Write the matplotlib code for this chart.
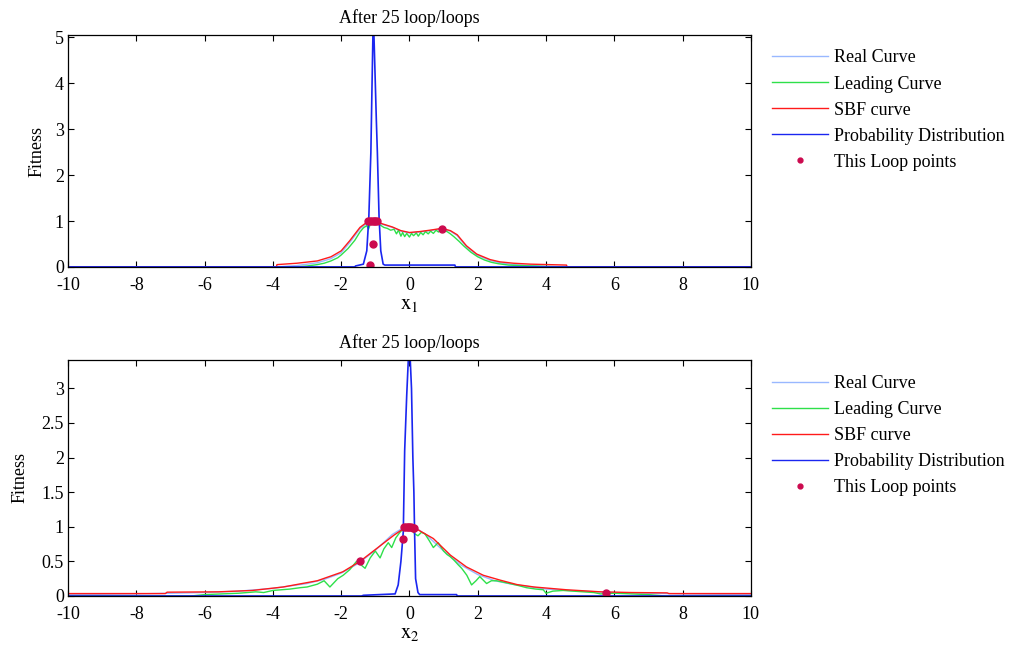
import matplotlib
matplotlib.use("Agg")
import matplotlib.pyplot as plt
from matplotlib.lines import Line2D

plt.rcParams['font.family'] = ['Liberation Serif', 'DejaVu Serif']
plt.rcParams['mathtext.fontset'] = 'stix'

# ---------------- data: panel 1 (x1) ----------------
real1_x = [-10, -3.9, -3.3, -2.7, -2.3, -2.0, -1.75, -1.45, -1.2, -1.05, -0.8, -0.5, -0.25, 0.0, 0.3, 0.6,
           0.95, 1.2, 1.4, 1.67, 1.97, 2.36, 2.65, 3.05, 3.55, 4.0, 4.6, 10]
real1_y = [0, 0.0, 0.03, 0.09, 0.18, 0.31, 0.53, 0.83, 0.98, 1.0, 0.93, 0.86, 0.78, 0.74, 0.76, 0.79,
           0.83, 0.78, 0.68, 0.44, 0.26, 0.14, 0.09, 0.05, 0.03, 0.01, 0.0, 0]

lead1_x = [-10, -3.3, -3.0, -2.7, -2.5, -2.3, -2.1, -2.0, -1.8, -1.6, -1.45, -1.35, -1.25, -1.2, -1.15, -1.05,
           -0.95, -0.85, -0.75, -0.65, -0.55, -0.45, -0.38, -0.32, -0.25, -0.2, -0.14, -0.08, 0.0, 0.06,
           0.12, 0.2, 0.26, 0.33, 0.4, 0.47, 0.55, 0.62, 0.7, 0.78, 0.85, 0.92, 1.0, 1.1, 1.2, 1.3, 1.45,
           1.6, 1.8, 2.0, 2.2, 2.4, 2.6, 2.9, 3.2, 3.6, 4.0, 4.6, 10]
lead1_y = [0, 0.0, 0.02, 0.05, 0.08, 0.13, 0.2, 0.26, 0.4, 0.58, 0.76, 0.85, 0.9, 0.82, 0.93, 0.97,
           0.95, 0.91, 0.86, 0.84, 0.8, 0.82, 0.72, 0.8, 0.67, 0.75, 0.66, 0.73, 0.65, 0.73,
           0.68, 0.74, 0.67, 0.75, 0.7, 0.77, 0.72, 0.78, 0.73, 0.8, 0.76, 0.8, 0.79, 0.77, 0.72, 0.66, 0.56,
           0.45, 0.32, 0.22, 0.15, 0.1, 0.07, 0.04, 0.03, 0.02, 0.01, 0.0, 0]

sbf1_x = [-10, -3.9, -3.88, -3.3, -2.7, -2.3, -2.0, -1.75, -1.45, -1.2, -1.05, -0.8, -0.5, -0.25, 0.0, 0.3,
          0.6, 0.95, 1.2, 1.4, 1.67, 1.97, 2.36, 2.65, 3.05, 3.55, 4.6, 4.62, 10]
sbf1_y = [0, 0, 0.05, 0.08, 0.13, 0.22, 0.35, 0.57, 0.86, 1.0, 1.01, 0.94, 0.87, 0.79, 0.75, 0.77,
          0.8, 0.84, 0.79, 0.7, 0.46, 0.28, 0.16, 0.11, 0.08, 0.06, 0.04, 0, 0]

prob1_x = [-10, -1.6, -1.58, -1.35, -1.25, -1.19, -1.13, -1.1, -1.07, -1.04, -1.0, -0.97, -0.94, -0.89,
           -0.84, -0.77, -0.72, 1.33, 1.35, 10]
prob1_y = [0, 0, 0.02, 0.06, 0.35, 1.08, 2.5, 3.8, 5.05, 5.05, 4.0, 3.2, 2.5, 1.08,
           0.35, 0.06, 0.04, 0.04, 0, 0]

pts1_x = [-1.2, -1.15, -1.1, -1.05, -1.0, -0.95, -1.08, -1.16, 0.96]
pts1_y = [0.99, 1.0, 1.0, 1.0, 1.0, 0.99, 0.5, 0.04, 0.82]

# ---------------- data: panel 2 (x2) ----------------
real2_x = [-10, -8, -6, -5, -4, -3, -2.5, -2, -1.5, -1, -0.5, -0.2, 0, 0.2, 0.5, 1, 1.5, 2, 2.5, 3, 4,
           5, 6, 8, 10]
real2_y = [0.02, 0.03, 0.05, 0.07, 0.11, 0.18, 0.24, 0.33, 0.47, 0.66, 0.89, 0.98, 1.0, 0.98, 0.88, 0.65,
           0.45, 0.31, 0.22, 0.17, 0.1, 0.07, 0.05, 0.03, 0.02]

lead2_x = [-10, -6.4, -6.0, -5.5, -5.0, -4.5, -4.27, -4.0, -3.5, -3.2, -3.0, -2.7, -2.5, -2.33, -2.1, -1.94,
           -1.75, -1.55, -1.42, -1.3, -1.15, -1.0, -0.86, -0.75, -0.62, -0.52, -0.4, -0.28, -0.18,
           -0.05, 0.05, 0.15, 0.25, 0.35, 0.45, 0.58, 0.7, 0.84, 1.0, 1.1, 1.19, 1.3, 1.43, 1.53, 1.68,
           1.82, 1.95, 2.06, 2.26, 2.4, 2.55, 2.75, 2.94, 3.2, 3.43, 3.7, 3.92, 4.0, 4.2, 4.5, 4.8, 5.1,
           5.4, 5.6, 6.0, 6.5, 7.0, 7.5, 10]
lead2_y = [0, 0.0, 0.02, 0.03, 0.04, 0.06, 0.05, 0.08, 0.1, 0.12, 0.13, 0.17, 0.22, 0.13, 0.25, 0.3,
           0.38, 0.5, 0.45, 0.4, 0.55, 0.65, 0.55, 0.68, 0.77, 0.7, 0.84, 0.92, 0.97,
           0.98, 0.98, 0.9, 0.87, 0.92, 0.9, 0.8, 0.7, 0.77, 0.65, 0.6, 0.57, 0.52, 0.45, 0.4, 0.3,
           0.16, 0.22, 0.28, 0.18, 0.22, 0.22, 0.2, 0.18, 0.15, 0.12, 0.1, 0.09, 0.04, 0.07, 0.08, 0.07, 0.06,
           0.05, 0.03, 0.04, 0.03, 0.02, 0.0, 0]

sbf2_x = [-10, -7.15, -7.1, -5.6, -4.6, -3.7, -2.7, -1.95, -1.45, -0.95, -0.45, -0.15, 0.0, 0.2, 0.45,
          0.7, 1.2, 1.67, 2.16, 2.65, 3.15, 3.65, 4.6, 5.6, 6.5, 7.55, 7.6, 10]
sbf2_y = [0.035, 0.035, 0.055, 0.06, 0.08, 0.13, 0.22, 0.35, 0.5, 0.69, 0.88, 0.98, 1.0, 0.97, 0.9,
          0.83, 0.59, 0.42, 0.3, 0.23, 0.165, 0.13, 0.09, 0.06, 0.05, 0.045, 0.035, 0.035]

prob2_x = [-10, -1.4, -1.35, -0.42, -0.33, -0.25, -0.18, -0.14, -0.08, -0.03, 0.02, 0.06, 0.1, 0.13,
           0.15, 0.18, 0.25, 0.3, 1.38, 1.4, 10]
prob2_y = [0, 0, 0.01, 0.03, 0.16, 0.5, 0.93, 2.1, 2.9, 3.45, 3.45, 3.0, 2.0, 1.5,
           0.93, 0.25, 0.05, 0.02, 0.02, 0, 0]

pts2_x = [-0.15, -0.1, -0.05, 0.0, 0.05, 0.1, 0.13, -0.18, -1.45, 5.77]
pts2_y = [0.99, 1.0, 1.0, 1.0, 0.99, 0.98, 0.98, 0.82, 0.5, 0.045]

# ---------------- labels ----------------
title_text = "After 25 loop/loops"
legend_labels = ["Real Curve", "Leading Curve", "SBF curve", "Probability Distribution", "This Loop points"]
xticks = [-10, -8, -6, -4, -2, 0, 2, 4, 6, 8, 10]
yticks1 = [0, 1, 2, 3, 4, 5]
yticks2 = [0, 0.5, 1, 1.5, 2, 2.5, 3]
ytick2_labels = ["0", "0.5", "1", "1.5", "2", "2.5", "3"]

C_REAL = '#99b8ff'
C_LEAD = '#2ee04a'
C_SBF = '#ff1a1a'
C_PROB = '#1a26f0'
C_PTS = '#cc0a4e'

FS = 13

fig = plt.figure(figsize=(10.16, 6.51), dpi=100)
ax1 = fig.add_axes([0.067, 0.590, 0.672, 0.356])
ax2 = fig.add_axes([0.067, 0.0845, 0.672, 0.3625])

panels = [
    (ax1, real1_x, real1_y, lead1_x, lead1_y, sbf1_x, sbf1_y, prob1_x, prob1_y, pts1_x, pts1_y,
     5.05, yticks1, [str(t) for t in yticks1], r'$\mathrm{x_1}$', 0.924, 7),
    (ax2, real2_x, real2_y, lead2_x, lead2_y, sbf2_x, sbf2_y, prob2_x, prob2_y, pts2_x, pts2_y,
     3.41, yticks2, ytick2_labels, r'$\mathrm{x_2}$', 0.424, 9),
]

for (ax, rx, ry, lx, ly, sx, sy, px, py, ptx, pty, ymax, yt, ytl, xl, leg_y, ylp) in panels:
    ax.plot(rx, ry, color=C_REAL, lw=1.0)
    ax.plot(lx, ly, color=C_LEAD, lw=1.0)
    ax.plot(sx, sy, color=C_SBF, lw=1.0)
    ax.plot(px, py, color=C_PROB, lw=1.2)
    ax.plot(ptx, pty, linestyle='none', marker='o', markersize=5, color=C_PTS)
    ax.set_xlim(-10, 10)
    ax.set_ylim(0, ymax)
    ax.set_xticks(xticks)
    ax.set_xticklabels([str(t) for t in xticks])
    ax.set_yticks(yt)
    ax.set_yticklabels(ytl)
    ax.tick_params(direction='in', top=True, right=True, length=4, width=0.8,
                   labelsize=FS)
    ax.tick_params(axis='x', pad=7)
    ax.tick_params(axis='y', pad=3)
    for sp in ax.spines.values():
        sp.set_linewidth(0.9)
    ax.set_title(title_text, fontsize=FS, pad=9)
    ax.set_ylabel("Fitness", fontsize=FS, labelpad=ylp)
    ax.set_xlabel(xl, fontsize=15, labelpad=1)
    leg_handles = [
        Line2D([], [], color=C_REAL, lw=1.0),
        Line2D([], [], color=C_LEAD, lw=1.0),
        Line2D([], [], color=C_SBF, lw=1.0),
        Line2D([], [], color=C_PROB, lw=1.0),
        Line2D([], [], linestyle='none', marker='o', markersize=3.5, color=C_PTS),
    ]
    fig.legend(leg_handles, legend_labels, loc='upper left', bbox_to_anchor=(0.760, leg_y),
               frameon=False, fontsize=FS, handlelength=3.1, handletextpad=0.3,
               labelspacing=0.5, borderpad=0, borderaxespad=0, numpoints=1)

fig.savefig("out.png", dpi=100)
